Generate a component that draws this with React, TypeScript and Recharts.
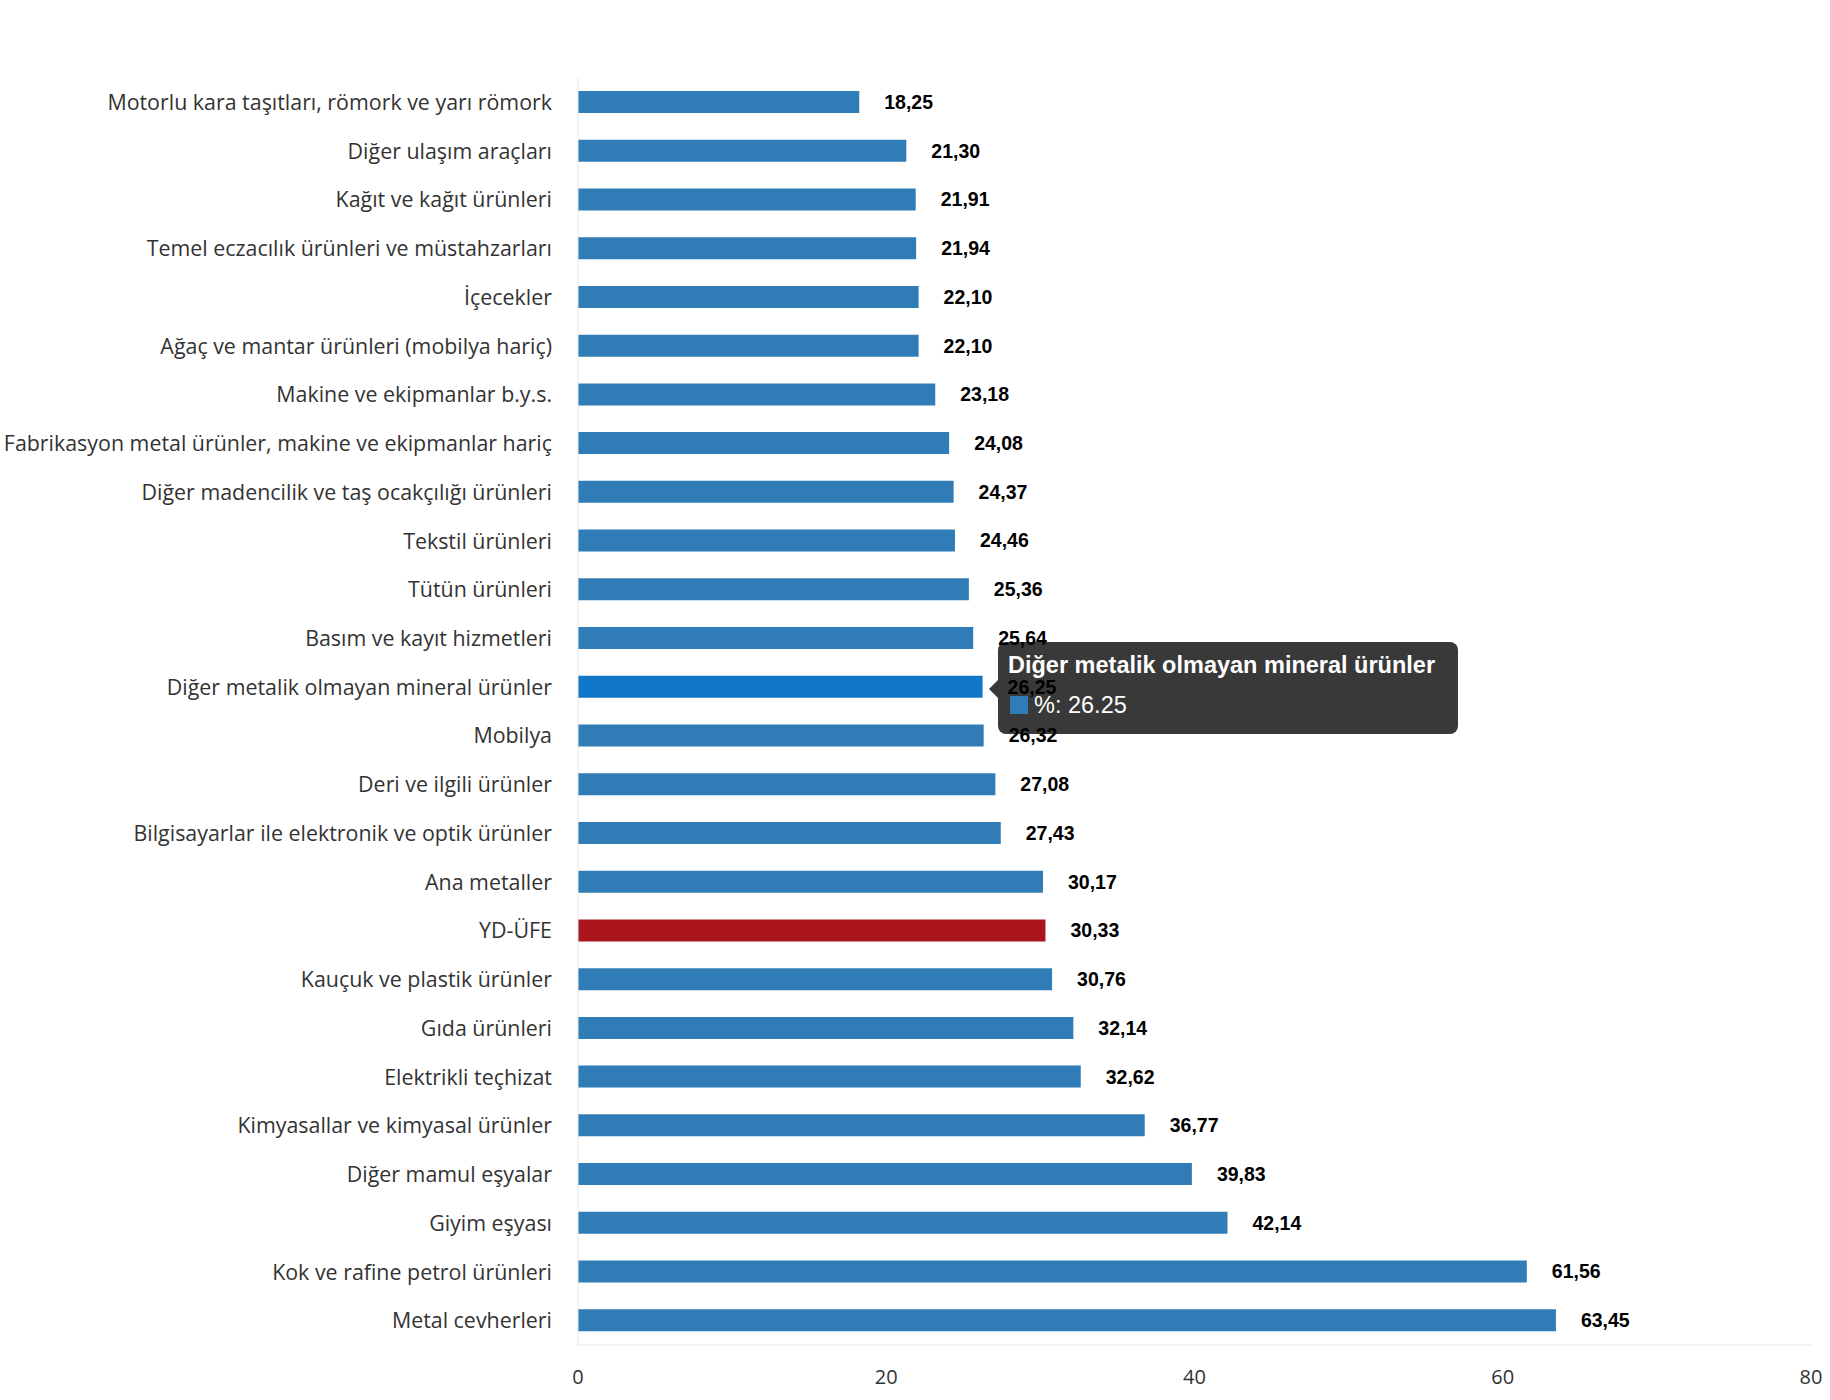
import { BarChart, Bar, XAxis, YAxis, Tooltip, LabelList, Cell } from "recharts";

const categories = [
  "Motorlu kara taşıtları, römork ve yarı römork",
  "Diğer ulaşım araçları",
  "Kağıt ve kağıt ürünleri",
  "Temel eczacılık ürünleri ve müstahzarları",
  "İçecekler",
  "Ağaç ve mantar ürünleri (mobilya hariç)",
  "Makine ve ekipmanlar b.y.s.",
  "Fabrikasyon metal ürünler, makine ve ekipmanlar hariç",
  "Diğer madencilik ve taş ocakçılığı ürünleri",
  "Tekstil ürünleri",
  "Tütün ürünleri",
  "Basım ve kayıt hizmetleri",
  "Diğer metalik olmayan mineral ürünler",
  "Mobilya",
  "Deri ve ilgili ürünler",
  "Bilgisayarlar ile elektronik ve optik ürünler",
  "Ana metaller",
  "YD-ÜFE",
  "Kauçuk ve plastik ürünler",
  "Gıda ürünleri",
  "Elektrikli teçhizat",
  "Kimyasallar ve kimyasal ürünler",
  "Diğer mamul eşyalar",
  "Giyim eşyası",
  "Kok ve rafine petrol ürünleri",
  "Metal cevherleri",
];

const values = [
  18.25, 21.3, 21.91, 21.94, 22.1, 22.1, 23.18, 24.08, 24.37, 24.46, 25.36,
  25.64, 26.25, 26.32, 27.08, 27.43, 30.17, 30.33, 30.76, 32.14, 32.62, 36.77,
  39.83, 42.14, 61.56, 63.45,
];

const xTicks = [0, 20, 40, 60, 80];

const totalLabel = "YD-ÜFE";
const hoveredCategory = "Diğer metalik olmayan mineral ürünler";

const data = categories.map((name, i) => ({ name, value: values[i] }));

const BLUE = "#2f7cb7";
const HOVER_BLUE = "#1177c8";
const RED = "#ab161d";

function TooltipBox({ payload }: any) {
  if (!payload || !payload.length) return null;
  const p = payload[0];
  return (
    <div
      style={{
        position: "relative",
        background: "rgba(51,51,51,0.97)",
        color: "#fff",
        borderRadius: 8,
        padding: "8px 10px 10px 10px",
        fontFamily: "'Liberation Sans', Arial, sans-serif",
        width: 440,
        height: 74,
      }}
    >
      <div
        style={{
          position: "absolute",
          left: -9,
          top: 38,
          width: 0,
          height: 0,
          borderTop: "9px solid transparent",
          borderBottom: "9px solid transparent",
          borderRight: "9px solid rgba(51,51,51,0.97)",
        }}
      />
      <div
        style={{
          fontWeight: 700,
          fontSize: 23.5,
          lineHeight: "30px",
          whiteSpace: "nowrap",
        }}
      >
        {p.payload.name}
      </div>
      <div
        style={{
          fontSize: 23.5,
          lineHeight: "30px",
          marginTop: 10,
          display: "flex",
          alignItems: "center",
        }}
      >
        <span
          style={{
            display: "inline-block",
            width: 18,
            height: 18,
            background: BLUE,
            marginRight: 6,
            marginLeft: 2,
          }}
        />
        %: {p.value.toFixed(2)}
      </div>
    </div>
  );
}

export default function App() {
  const hoveredIndex = categories.indexOf(hoveredCategory);
  return (
    <div style={{ position: "absolute", left: 0, top: 0, background: "#fff" }}>
      <style>{`
        .recharts-wrapper > svg.recharts-surface { position: relative; z-index: 2; }
        .recharts-tooltip-wrapper { z-index: 1 !important; }
      `}</style>
      <BarChart
        width={1830}
        height={1400}
        data={data}
        layout="vertical"
        margin={{ top: 78, right: 19, bottom: 15, left: 0 }}
        barCategoryGap={0}
      >
        <XAxis
          type="number"
          domain={[0, 80]}
          ticks={xTicks}
          height={40}
          tickLine={false}
          axisLine={{ stroke: "#e6e6e6", strokeWidth: 1 }}
          tickMargin={19}
          tick={{
            fill: "#333333",
            fontSize: 20,
            fontFamily: "'Open Sans', sans-serif",
          }}
          interval={0}
        />
        <YAxis
          type="category"
          dataKey="name"
          width={578}
          tickLine={false}
          axisLine={{ stroke: "#e6e6e6", strokeWidth: 1 }}
          tickMargin={20}
          interval={0}
          tick={{
            fill: "#333333",
            fontSize: 21.4,
            fontFamily: "'Open Sans', sans-serif",
          }}
        />
        <Tooltip
          active
          defaultIndex={hoveredIndex}
          position={{ x: 998, y: 642 }}
          cursor={false}
          isAnimationActive={false}
          content={<TooltipBox />}
          wrapperStyle={{ outline: "none" }}
        />
        <Bar dataKey="value" barSize={22} isAnimationActive={false}>
          {data.map((d, i) => (
            <Cell
              key={d.name}
              fill={
                d.name === totalLabel
                  ? RED
                  : i === hoveredIndex
                    ? HOVER_BLUE
                    : BLUE
              }
            />
          ))}
          <LabelList
            dataKey="value"
            position="right"
            offset={25}
            formatter={(v: any) => Number(v).toFixed(2).replace(".", ",")}
            style={{
              fill: "#000",
              fontSize: 19.5,
              fontWeight: 700,
              fontFamily: "'Liberation Sans Narrow', 'Liberation Sans', Arial, sans-serif",
            }}
          />
        </Bar>
      </BarChart>
    </div>
  );
}
